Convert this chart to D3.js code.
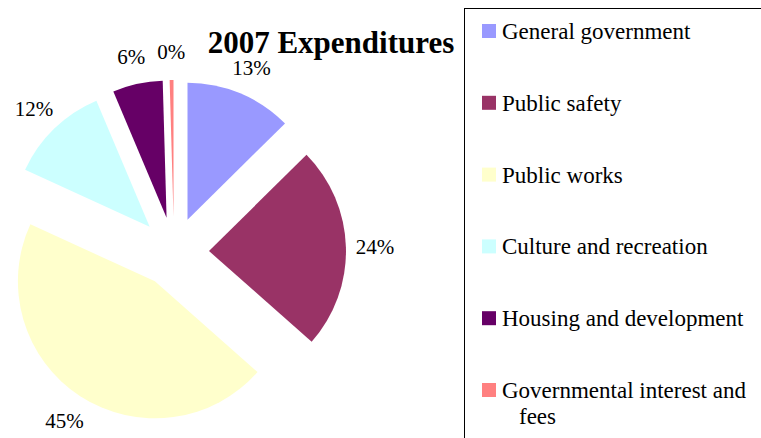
<!DOCTYPE html>
<html>
<head>
<meta charset="utf-8">
<script src="https://cdn.jsdelivr.net/npm/d3@7"></script>
<style>
  html, body { margin: 0; padding: 0; background: #fff; }
  svg text { font-family: "Liberation Serif", "Times New Roman", Times, serif; }
</style>
</head>
<body>
<div id="chart"></div>
<script>
// Data (shares of 2007 expenditures)
const categories = ['General government', 'Public safety', 'Public works',
  'Culture and recreation', 'Housing and development', 'Governmental interest and fees'];
const values = [12.6, 23.9, 45.3, 11.8, 5.9, 0.45];
const colors = ['#9999ff', '#993366', '#ffffcc', '#ccffff', '#660066', '#ff8080'];
const title = '2007 Expenditures';

(() => {
  const width = 761, height = 438;
  const center = { x: 174, y: 252 };
  const radius = 137;
  const explode = 35;
  const labelRadius = 201;

  const svg = d3.select('#chart').append('svg')
    .attr('width', width)
    .attr('height', height);

  const data = categories.map((name, i) => ({ name, value: values[i], color: colors[i] }));
  const total = d3.sum(values);

  const pie = d3.pie().sort(null).value(d => d.value);
  const arc = d3.arc().innerRadius(0).outerRadius(radius);
  const labelArc = d3.arc().innerRadius(labelRadius).outerRadius(labelRadius);
  const arcs = pie(data);

  const g = svg.append('g')
    .attr('transform', `translate(${center.x},${center.y})`);

  // Exploded slices: each pushed out along its bisector
  g.selectAll('path.slice')
    .data(arcs)
    .join('path')
    .attr('class', 'slice')
    .attr('d', arc)
    .attr('fill', d => d.data.color)
    .attr('transform', d => {
      const mid = (d.startAngle + d.endAngle) / 2;
      return `translate(${Math.sin(mid) * explode},${-Math.cos(mid) * explode})`;
    });

  // Percent labels
  g.selectAll('text.pct')
    .data(arcs)
    .join('text')
    .attr('class', 'pct')
    .attr('transform', d => `translate(${labelArc.centroid(d)})`)
    .attr('text-anchor', 'middle')
    .attr('dy', '0.38em')
    .style('font-size', '21px')
    .style('fill', '#000')
    .text(d => Math.round(d.data.value / total * 100) + '%');

  // Title
  svg.append('text')
    .attr('x', 331)
    .attr('y', 53)
    .attr('text-anchor', 'middle')
    .style('font-size', '31px')
    .style('font-weight', 'bold')
    .text(title);

  // Legend box (runs off the right and bottom edges)
  svg.append('rect')
    .attr('x', 464.5)
    .attr('y', 8.5)
    .attr('width', 320)
    .attr('height', 460)
    .attr('fill', '#fff')
    .attr('stroke', '#000')
    .attr('stroke-width', 1);

  const rowY = d3.scalePoint()
    .domain(categories)
    .range([31, 390]);

  const rows = svg.selectAll('g.legend-row')
    .data(data)
    .join('g')
    .attr('class', 'legend-row')
    .attr('transform', d => `translate(482,${rowY(d.name)})`);

  rows.append('rect')
    .attr('x', 0)
    .attr('y', -7)
    .attr('width', 14)
    .attr('height', 14)
    .attr('fill', d => d.color);

  const maxTextWidth = 252;
  rows.append('text')
    .attr('x', 20)
    .attr('y', 8)
    .style('font-size', '23px')
    .each(function (d) {
      const text = d3.select(this);
      const words = d.name.split(' ');
      let line = [];
      let tspan = text.append('tspan').attr('x', 20);
      words.forEach(w => {
        line.push(w);
        tspan.text(line.join(' '));
        if (tspan.node().getComputedTextLength() > maxTextWidth && line.length > 1) {
          line.pop();
          tspan.text(line.join(' '));
          line = [w];
          tspan = text.append('tspan')
            .attr('x', 37)
            .attr('dy', 26)
            .text(w);
        }
      });
    });
})();
</script>
</body>
</html>
